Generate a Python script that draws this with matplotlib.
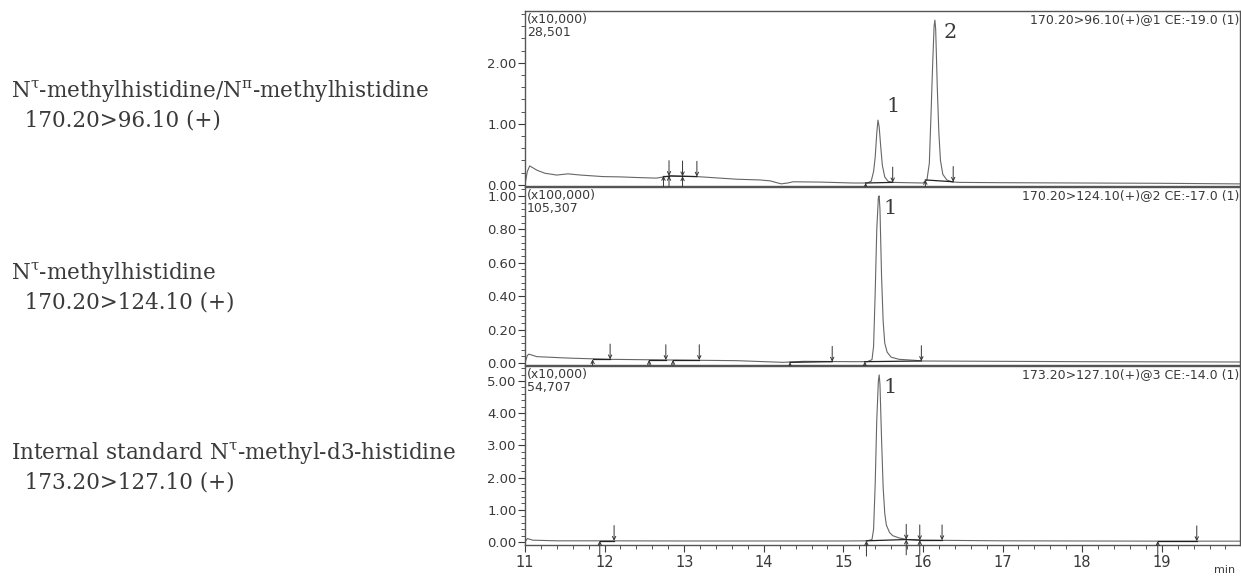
import matplotlib
matplotlib.use("Agg")
import matplotlib.pyplot as plt
from matplotlib.ticker import MultipleLocator, FormatStrFormatter

plt.rcParams["mathtext.fontset"] = "custom"
plt.rcParams["mathtext.rm"] = "DejaVu Serif"
plt.rcParams["mathtext.it"] = "DejaVu Serif"
plt.rcParams["mathtext.bf"] = "DejaVu Serif:bold"

# chromatogram traces (time in min, intensity in display units)
t1 = [11.0, 11.03, 11.06, 11.15, 11.25, 11.4, 11.54, 11.7, 11.98, 12.2, 12.4, 12.65, 12.82, 13.0,
      13.16, 13.45, 13.66, 13.95, 14.08, 14.15, 14.22, 14.3, 14.37, 14.71, 15.12, 15.3, 15.35,
      15.38, 15.40, 15.42, 15.435, 15.45, 15.47, 15.49, 15.52, 15.56, 15.62, 15.8, 16.0, 16.05,
      16.08, 16.10, 16.12, 16.14, 16.15, 16.16, 16.18, 16.20, 16.22, 16.25, 16.30, 16.36, 16.45,
      17.0, 18.0, 19.0, 20.0]
y1 = [0.0, 0.22, 0.31, 0.24, 0.19, 0.16, 0.18, 0.16, 0.135, 0.13, 0.12, 0.11, 0.146, 0.14,
      0.135, 0.11, 0.092, 0.08, 0.065, 0.04, 0.016, 0.03, 0.05, 0.045, 0.03, 0.03, 0.06,
      0.22, 0.45, 0.85, 1.06, 0.95, 0.62, 0.32, 0.13, 0.06, 0.04, 0.035, 0.03, 0.08,
      0.35, 1.1, 1.9, 2.6, 2.70, 2.55, 1.6, 0.85, 0.4, 0.17, 0.08, 0.05, 0.04,
      0.035, 0.03, 0.025, 0.015]

t2 = [11.0, 11.03, 11.05, 11.15, 11.57, 12.07, 12.82, 13.66, 14.24, 14.5, 15.12, 15.30, 15.36,
      15.38, 15.40, 15.42, 15.44, 15.45, 15.46, 15.48, 15.50, 15.52, 15.55, 15.6, 15.7, 15.9,
      16.0, 17.0, 18.0, 19.0, 20.0]
y2 = [0.0, 0.045, 0.053, 0.038, 0.029, 0.022, 0.018, 0.014, 0.004, 0.01, 0.008, 0.008, 0.02,
      0.1, 0.42, 0.8, 0.99, 1.0, 0.92, 0.52, 0.25, 0.12, 0.065, 0.035, 0.022, 0.016,
      0.012, 0.01, 0.008, 0.007, 0.006]

t3 = [11.0, 11.03, 11.1, 11.4, 12.0, 13.0, 14.0, 15.0, 15.30, 15.36, 15.38, 15.40, 15.42,
      15.44, 15.45, 15.46, 15.48, 15.50, 15.52, 15.54, 15.58, 15.62, 15.7, 15.8, 16.0, 17.0,
      18.0, 19.0, 20.0]
y3 = [0.0, 0.11, 0.06, 0.04, 0.04, 0.035, 0.035, 0.035, 0.04, 0.08, 0.4, 1.8, 3.8,
      5.0, 5.19, 4.9, 3.2, 1.7, 0.9, 0.53, 0.3, 0.2, 0.13, 0.08, 0.06, 0.04,
      0.035, 0.03, 0.03]

# integration segments (start, end) in min
seg1 = [(12.74, 12.81), (12.81, 12.98), (12.98, 13.16), (15.28, 15.62), (16.03, 16.38)]
seg2 = [(11.85, 12.07), (12.56, 12.77), (12.86, 13.19), (14.33, 14.86), (15.27, 15.98)]
seg3 = [(11.94, 12.12), (15.29, 15.79), (15.79, 15.96), (15.96, 16.24), (18.95, 19.44)]

peak_labels = [[("1", 15.435, 1.06), ("2", 16.15, 2.70)],
               [("1", 15.45, 1.0)],
               [("1", 15.45, 5.19)]]
label_offsets = [[(6, 10), (6, -9)], [(3, -9)], [(3, -9)]]

scales = ["(x10,000)", "(x100,000)", "(x10,000)"]
maxima = ["28,501", "105,307", "54,707"]
mrm = ["170.20>96.10(+)@1 CE:-19.0 (1)", "170.20>124.10(+)@2 CE:-17.0 (1)",
       "173.20>127.10(+)@3 CE:-14.0 (1)"]
ylims = [(-0.02, 2.85), (-0.012, 1.053), (-0.09, 5.47)]
majors = [1.0, 0.2, 1.0]
minors = [0.2, 0.04, 0.2]

names = ["N$^{\\tau}$-methylhistidine/N$^{\\pi}$-methylhistidine\n  170.20>96.10 (+)",
         "N$^{\\tau}$-methylhistidine\n  170.20>124.10 (+)",
         "Internal standard N$^{\\tau}$-methyl-d3-histidine\n  173.20>127.10 (+)"]

traces = [(t1, y1), (t2, y2), (t3, y3)]
segs = [seg1, seg2, seg3]

ink = "#3a3a3a"
small_font = ["Liberation Sans Narrow", "DejaVu Sans"]
fig = plt.figure(figsize=(12.41, 5.76), dpi=100)
rects = [[0.423, 0.677, 0.576, 0.304],
         [0.423, 0.3663, 0.576, 0.309],
         [0.423, 0.0538, 0.576, 0.311]]
name_y = [0.818, 0.502, 0.19]

for i in range(3):
    ax = fig.add_axes(rects[i])
    t, y = traces[i]
    ax.plot(t, y, color="#666666", lw=0.8)
    ax.set_xlim(11, 19.98)
    ax.set_ylim(*ylims[i])
    for s in ax.spines.values():
        s.set_color("#555555")
        s.set_linewidth(1.0)
    ax.yaxis.set_major_locator(MultipleLocator(majors[i]))
    ax.yaxis.set_minor_locator(MultipleLocator(minors[i]))
    ax.yaxis.set_major_formatter(FormatStrFormatter("%.2f"))
    ax.tick_params(axis="y", which="major", length=5, width=0.8, colors=ink,
                   labelsize=9.5, pad=1)
    ax.tick_params(axis="y", which="minor", length=3, width=0.6, colors=ink)

    if i == 2:
        ax.xaxis.set_major_locator(MultipleLocator(1))
        ax.xaxis.set_minor_locator(MultipleLocator(0.2))
        ax.tick_params(axis="x", which="major", length=5, width=0.8, colors=ink,
                       labelsize=10.5, pad=2)
        ax.tick_params(axis="x", which="minor", length=3, width=0.6, colors=ink)
    else:
        ax.set_xticks([])

    # integration baselines and start/end arrows
    for a, b in segs[i]:
        ya = y[min(range(len(t)), key=lambda k: abs(t[k] - a))]
        yb = y[min(range(len(t)), key=lambda k: abs(t[k] - b))]
        ax.plot([a, b], [ya, yb], color="#222222", lw=0.9)
        ax.annotate("", xy=(a, ya), xytext=(0, -11), textcoords="offset points",
                    arrowprops=dict(arrowstyle="->", lw=0.7, color="#333333",
                                    shrinkA=0, shrinkB=0, mutation_scale=6))
        ax.annotate("", xy=(b, yb), xytext=(0, 11), textcoords="offset points",
                    arrowprops=dict(arrowstyle="->", lw=0.7, color="#333333",
                                    shrinkA=0, shrinkB=0, mutation_scale=6))

    for (lab, px, py), off in zip(peak_labels[i], label_offsets[i]):
        ax.annotate(lab, xy=(px, py), xytext=off, textcoords="offset points",
                    fontsize=15, family="DejaVu Serif", color=ink, va="center")

    ax.text(0.003, 0.99, scales[i] + "\n" + maxima[i], transform=ax.transAxes,
            ha="left", va="top", fontsize=9, family=small_font, color=ink,
            linespacing=1.0)
    ax.text(0.999, 0.99, mrm[i], transform=ax.transAxes, ha="right", va="top",
            fontsize=9, family=small_font, color=ink)

    fig.text(0.009, name_y[i], names[i], ha="left", va="center", fontsize=15.5,
             family="DejaVu Serif", color=ink, linespacing=1.3)

fig.text(0.995, 0.002, "min", ha="right", va="bottom", fontsize=8,
         family=small_font, color=ink)

fig.savefig("out.png", dpi=100, facecolor="white")
